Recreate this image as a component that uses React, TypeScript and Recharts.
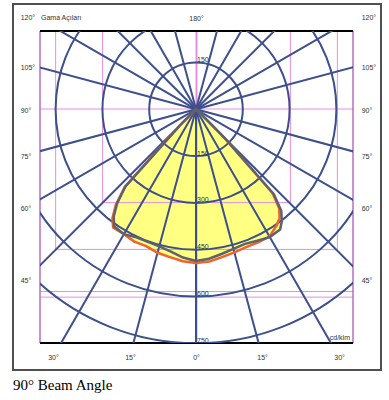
import React from "react";
import {
  RadarChart,
  Radar,
  PolarGrid,
  PolarAngleAxis,
  PolarRadiusAxis,
  ComposedChart,
  XAxis,
  YAxis,
  ReferenceLine,
  Label,
} from "recharts";

// gamma angles (deg from nadir) and intensities in cd/klm
const gammas = [0, 5, 10, 15, 20, 25, 30, 35, 37.5, 40, 42.5, 45, 47.5, 50, 55];
const c0Left = [493, 489, 481, 476, 467, 468, 462, 463, 440, 400, 338, 75, 12, 2, 0];
const c0Right = [493, 490, 481, 475, 470, 471, 471, 452, 440, 415, 362, 120, 15, 2, 0];
const c90Left = [486, 477, 463, 455, 452, 453, 462, 458, 433, 393, 335, 70, 12, 2, 0];
const c90Right = [486, 481, 471, 463, 459, 465, 473, 470, 452, 425, 370, 130, 15, 2, 0];

// grid
const ringTicks = [150, 300, 450, 600, 750];
const upperRingTicks = [150];
const spokeTicks = [
  0, 15, 30, 45, 60, 75, 105, 120, 135, 150, 165, 195, 210, 225, 240, 255, 285,
  300, 315, 330, 345,
];

// frame labels (positions in cd/klm units of the frame)
const sideTicks = [292.6, 131.4, -5.4, -152, -319.6, -549];
const sideLabels = ["120°", "105°", "90°", "75°", "60°", "45°"];
const bottomTicks = [-457, -211, 0, 211, 457];
const bottomLabels = ["30°", "15°", "0°", "15°", "30°"];
const topTicks = [0];
const topLabels = ["180°"];

// pink guide lines
const boxSizes = [300, 450];
const pinkRows = [0, -585, -603];

const rows = [
  ...gammas.map((g, i) => ({ angle: g, c0: c0Left[i], c90: c90Left[i] })),
  ...gammas
    .map((g, i) => ({ angle: 360 - g, c0: c0Right[i], c90: c90Right[i] }))
    .filter((r) => r.angle < 360)
    .reverse(),
];
const frameRows = bottomTicks.map((v) => ({ x: v }));

const PW = 313;
const PH = 312;
const BLUE = "#3d4f8c";
const PINK = "#e58fe0";
const YELLOW = "#ffff82";
const ORANGE = "#f2622e";
const GRAY = "#5d6270";
const TXT = "#333";

const ringLabel = (p: any) => (
  <text x={p.x + 1} y={p.y - 3} dy="0.35em" fontSize={7} fill={TXT} textAnchor="start">
    {p.payload.value}
  </text>
);

function PolarLayer({ children, labels }: { children?: React.ReactNode; labels?: boolean }) {
  return (
    <div style={{ position: "absolute", left: 40, top: 31, width: PW, height: PH, overflow: "hidden" }}>
      <RadarChart
        width={PW}
        height={PH}
        data={rows}
        cx={156}
        cy={78.3}
        innerRadius={0}
        outerRadius={299.5}
        startAngle={-90}
        endAngle={-450}
        margin={{ top: 0, right: 0, bottom: 0, left: 0 }}
      >
        <PolarAngleAxis
          dataKey="angle"
          type="number"
          domain={[0, 360]}
          ticks={spokeTicks}
          tick={false}
          axisLine={false}
        />
        <PolarRadiusAxis
          type="number"
          domain={[0, 960]}
          ticks={ringTicks}
          angle={-90}
          tick={labels ? ringLabel : false}
          axisLine={false}
          allowDataOverflow
        />
        {labels && (
          <PolarRadiusAxis
            radiusAxisId="up"
            type="number"
            domain={[0, 960]}
            ticks={upperRingTicks}
            angle={90}
            tick={ringLabel}
            axisLine={false}
            allowDataOverflow
          />
        )}
        {children}
      </RadarChart>
    </div>
  );
}

export default function App() {
  const tickStyle = { fontSize: 7, fill: TXT };
  return (
    <div
      style={{
        position: "absolute",
        left: 0,
        top: 0,
        width: 389,
        height: 400,
        fontFamily: "'Liberation Sans', Arial, sans-serif",
        background: "#fff",
      }}
    >
      <div
        style={{
          position: "absolute",
          left: 12,
          top: 3,
          width: 370,
          height: 368,
          boxSizing: "border-box",
          border: "2px solid #505050",
        }}
      />

      {/* yellow fill */}
      <PolarLayer>
        <Radar dataKey="c0" stroke="none" fill={YELLOW} fillOpacity={1} isAnimationActive={false} />
        <Radar dataKey="c90" stroke="none" fill={YELLOW} fillOpacity={1} isAnimationActive={false} />
      </PolarLayer>

      {/* frame, pink guides and angle labels */}
      <div style={{ position: "absolute", left: 0, top: 0 }}>
        <ComposedChart width={389} height={400} data={frameRows} margin={{ top: 5, right: 10, bottom: 30, left: 10 }}>
          <XAxis
            xAxisId="b"
            dataKey="x"
            type="number"
            domain={[-500, 500]}
            allowDataOverflow
            ticks={bottomTicks}
            interval={0}
            tickFormatter={(v: number) => bottomLabels[bottomTicks.indexOf(v)]}
            tickLine={false}
            axisLine={false}
            tickSize={0}
            tickMargin={12.5}
            height={27}
            tick={tickStyle}
          />
          <XAxis
            xAxisId="t"
            dataKey="x"
            orientation="top"
            type="number"
            domain={[-500, 500]}
            allowDataOverflow
            ticks={topTicks}
            interval={0}
            tickFormatter={(v: number) => topLabels[topTicks.indexOf(v)]}
            tickLine={false}
            axisLine={false}
            tickSize={0}
            tickMargin={10.5}
            height={26}
            tick={tickStyle}
          >
            <Label value="Gama Açıları" position="insideLeft" offset={1} fontSize={7} fill={TXT} />
          </XAxis>
          <YAxis
            yAxisId="l"
            type="number"
            domain={[-750, 250]}
            allowDataOverflow
            ticks={sideTicks}
            interval={0}
            tickFormatter={(v: number) => sideLabels[sideTicks.indexOf(v)]}
            tickLine={false}
            axisLine={false}
            tickSize={0}
            tickMargin={19.3}
            width={30}
            tick={{ ...tickStyle, textAnchor: "start" }}
          />
          <YAxis
            yAxisId="r"
            orientation="right"
            type="number"
            domain={[-750, 250]}
            allowDataOverflow
            ticks={sideTicks}
            interval={0}
            tickFormatter={(v: number) => sideLabels[sideTicks.indexOf(v)]}
            tickLine={false}
            axisLine={false}
            tickSize={0}
            tickMargin={8.7}
            width={26}
            tick={tickStyle}
          />
          {pinkRows.map((y) => (
            <ReferenceLine key={"r" + y} xAxisId="b" yAxisId="l" y={y} stroke={PINK} strokeWidth={1} />
          ))}
          <ReferenceLine xAxisId="b" yAxisId="l" x={0} stroke={PINK} strokeWidth={2} />
          {boxSizes.map((s) => (
            <React.Fragment key={"b" + s}>
              <ReferenceLine xAxisId="b" yAxisId="l" segment={[{ x: -s, y: 250 }, { x: -s, y: -s }]} stroke={PINK} strokeWidth={1} />
              <ReferenceLine xAxisId="b" yAxisId="l" segment={[{ x: s, y: 250 }, { x: s, y: -s }]} stroke={PINK} strokeWidth={1} />
              <ReferenceLine xAxisId="b" yAxisId="l" segment={[{ x: -s, y: -s }, { x: s, y: -s }]} stroke={PINK} strokeWidth={1} />
            </React.Fragment>
          ))}
          <ReferenceLine xAxisId="b" yAxisId="l" x={-500} stroke="#b86cc4" strokeWidth={1.5} />
          <ReferenceLine xAxisId="b" yAxisId="l" x={500} stroke="#b86cc4" strokeWidth={1.5} />
          <ReferenceLine xAxisId="b" yAxisId="l" y={250} stroke="#000" strokeWidth={2} />
          <ReferenceLine
            xAxisId="b"
            yAxisId="l"
            y={-750}
            stroke="#000"
            strokeWidth={2}
            label={{ value: "cd/klm", position: "insideBottomRight", offset: 3, fontSize: 7, fill: TXT }}
          />
        </ComposedChart>
      </div>

      {/* polar grid */}
      <PolarLayer labels>
        <PolarGrid gridType="circle" radialLines stroke={BLUE} strokeWidth={2} />
      </PolarLayer>

      {/* curves */}
      <PolarLayer>
        <Radar dataKey="c0" name="C0-C180" stroke={ORANGE} strokeWidth={2.5} fill="none" isAnimationActive={false} />
        <Radar dataKey="c90" name="C90-C270" stroke={GRAY} strokeWidth={2.5} fill="none" isAnimationActive={false} />
      </PolarLayer>

      <div
        style={{
          position: "absolute",
          left: 13,
          top: 377,
          fontFamily: "'Liberation Serif', 'Times New Roman', serif",
          fontSize: 15,
          color: "#000",
          whiteSpace: "nowrap",
        }}
      >
        90° Beam Angle
      </div>
    </div>
  );
}
